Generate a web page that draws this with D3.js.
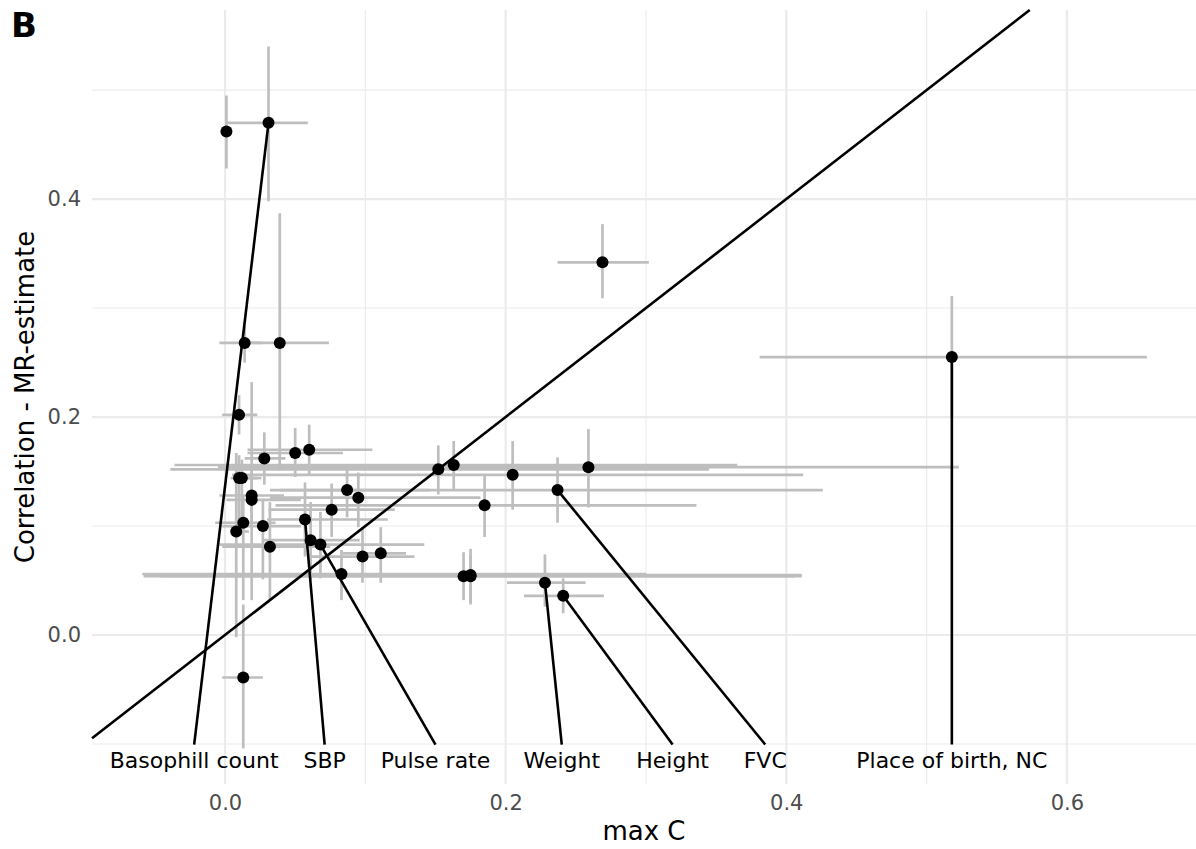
<!DOCTYPE html>
<html>
<head>
<meta charset="utf-8">
<script src="https://cdn.jsdelivr.net/npm/d3@7"></script>
<style>
  body { margin: 0; background: #fff; }
  text { font-family: "DejaVu Sans", sans-serif; }
</style>
</head>
<body>
<svg id="chart" width="1196" height="849"></svg>
<script>
// one entry per trait: max C (x), correlation - MR estimate (y), and their intervals
const maxC   = [0.001, 0.031, 0.014, 0.039, 0.010, 0.028, 0.050, 0.060, 0.010, 0.012,
                0.019, 0.019, 0.087, 0.095, 0.076, 0.057, 0.013, 0.008, 0.027, 0.032,
                0.061, 0.068, 0.083, 0.098, 0.111, 0.152, 0.163, 0.205, 0.185, 0.259,
                0.237, 0.170, 0.175, 0.175, 0.228, 0.241, 0.269, 0.518, 0.013];
const corrMR = [0.462, 0.470, 0.268, 0.268, 0.202, 0.162, 0.167, 0.170, 0.144, 0.144,
                0.128, 0.124, 0.133, 0.126, 0.115, 0.106, 0.103, 0.095, 0.100, 0.081,
                0.087, 0.083, 0.056, 0.072, 0.075, 0.152, 0.156, 0.147, 0.119, 0.154,
                0.133, 0.054, 0.055, 0.054, 0.048, 0.036, 0.342, 0.255, -0.039];
const maxCLo = [0.000, 0.001, -0.004, 0.016, -0.002, 0.014, 0.016, 0.016, 0.006, 0.004,
                -0.004, 0.001, 0.032, 0.032, 0.031, 0.030, -0.007, 0.005, -0.002, -0.002,
                0.027, -0.004, -0.059, 0.060, 0.084, -0.039, -0.036, 0.005, 0.036, -0.005,
                0.039, -0.058, -0.053, -0.046, 0.201, 0.213, 0.237, 0.381, -0.002];
const maxCHi = [0.002, 0.059, 0.026, 0.074, 0.023, 0.043, 0.084, 0.105, 0.023, 0.026,
                0.042, 0.054, 0.146, 0.182, 0.121, 0.116, 0.036, 0.017, 0.054, 0.075,
                0.096, 0.142, 0.300, 0.135, 0.129, 0.345, 0.365, 0.412, 0.336, 0.523,
                0.426, 0.411, 0.411, 0.406, 0.257, 0.270, 0.302, 0.657, 0.027];
const corrLo = [0.428, 0.398, 0.250, 0.151, 0.184, 0.138, 0.145, 0.147, 0.106, 0.092,
                0.100, 0.032, 0.108, 0.099, 0.090, 0.072, 0.032, -0.002, 0.051, 0.032,
                0.051, 0.052, 0.032, 0.048, 0.048, 0.129, 0.134, 0.115, 0.090, 0.117,
                0.103, 0.032, 0.030, 0.028, 0.026, 0.020, 0.309, 0.199, -0.104];
const corrHi = [0.495, 0.540, 0.284, 0.387, 0.220, 0.186, 0.190, 0.193, 0.165, 0.161,
                0.150, 0.232, 0.156, 0.149, 0.139, 0.140, 0.128, 0.167, 0.124, 0.122,
                0.122, 0.113, 0.078, 0.099, 0.099, 0.174, 0.178, 0.178, 0.147, 0.189,
                0.163, 0.076, 0.079, 0.073, 0.074, 0.052, 0.377, 0.311, 0.028];

// labelled traits: which point, and where the label sits
const labelText  = ["Basophill count", "SBP", "Pulse rate", "Weight", "Height", "FVC", "Place of birth, NC"];
const labelPoint = [1, 15, 21, 34, 35, 30, 37];
const labelX     = [-0.022, 0.071, 0.150, 0.240, 0.319, 0.385, 0.518];
const labelY     = -0.115;

const xTicks = [0.0, 0.2, 0.4, 0.6];
const xMinor = [0.1, 0.3, 0.5];
const yTicks = [0.0, 0.2, 0.4];
const yMinor = [-0.1, 0.1, 0.3, 0.5];

const svg = d3.select("#chart");
const panel = {left: 92, right: 1196, top: 10, bottom: 784};

const x = d3.scaleLinear().domain([-0.0948, 0.692]).range([panel.left, panel.right]);
const y = d3.scaleLinear().domain([-0.1367, 0.5735]).range([panel.bottom, panel.top]);

const grid = svg.append("g");
grid.selectAll("line.xminor").data(xMinor).join("line")
    .attr("x1", d => x(d)).attr("x2", d => x(d))
    .attr("y1", panel.top).attr("y2", panel.bottom)
    .attr("stroke", "#EBEBEB").attr("stroke-width", 1.1);
grid.selectAll("line.yminor").data(yMinor).join("line")
    .attr("y1", d => y(d)).attr("y2", d => y(d))
    .attr("x1", panel.left).attr("x2", panel.right)
    .attr("stroke", "#EBEBEB").attr("stroke-width", 1.1);
grid.selectAll("line.xmajor").data(xTicks).join("line")
    .attr("x1", d => x(d)).attr("x2", d => x(d))
    .attr("y1", panel.top).attr("y2", panel.bottom)
    .attr("stroke", "#EBEBEB").attr("stroke-width", 2.2);
grid.selectAll("line.ymajor").data(yTicks).join("line")
    .attr("y1", d => y(d)).attr("y2", d => y(d))
    .attr("x1", panel.left).attr("x2", panel.right)
    .attr("stroke", "#EBEBEB").attr("stroke-width", 2.2);

// axes (no lines, only labels)
const xAxis = svg.append("g")
    .attr("transform", `translate(0,${panel.bottom})`)
    .call(d3.axisBottom(x).tickValues(xTicks).tickFormat(d3.format(".1f")).tickSize(0).tickPadding(11));
const yAxis = svg.append("g")
    .attr("transform", `translate(${panel.left},0)`)
    .call(d3.axisLeft(y).tickValues(yTicks).tickFormat(d3.format(".1f")).tickSize(0).tickPadding(11));
[xAxis, yAxis].forEach(a => {
    a.select(".domain").remove();
    a.selectAll("text").attr("font-size", 21).attr("fill", "#4D4D4D")
        .attr("font-family", "DejaVu Sans, sans-serif");
});

const idx = d3.range(maxC.length);

// error bars
const bars = svg.append("g").attr("stroke", "#BEBEBE").attr("stroke-width", 2.7);
bars.selectAll("line.h").data(idx).join("line")
    .attr("x1", i => x(maxCLo[i])).attr("x2", i => x(maxCHi[i]))
    .attr("y1", i => y(corrMR[i])).attr("y2", i => y(corrMR[i]));
bars.selectAll("line.v").data(idx).join("line")
    .attr("x1", i => x(maxC[i])).attr("x2", i => x(maxC[i]))
    .attr("y1", i => y(corrLo[i])).attr("y2", i => y(corrHi[i]));

// points
svg.append("g").selectAll("circle").data(idx).join("circle")
    .attr("cx", i => x(maxC[i])).attr("cy", i => y(corrMR[i]))
    .attr("r", 6).attr("fill", "#000");

// identity line
const xd = x.domain();
svg.append("line")
    .attr("x1", x(xd[0])).attr("y1", y(xd[0]))
    .attr("x2", x(0.5735)).attr("y2", y(0.5735))
    .attr("stroke", "#000").attr("stroke-width", 2.6);

// label segments and text
const lab = svg.append("g");
lab.selectAll("line").data(labelText).join("line")
    .attr("x1", (d, k) => x(maxC[labelPoint[k]])).attr("y1", (d, k) => y(corrMR[labelPoint[k]]))
    .attr("x2", (d, k) => x(labelX[k])).attr("y2", y(-0.1005))
    .attr("stroke", "#000").attr("stroke-width", 2.6);
lab.selectAll("text").data(labelText).join("text")
    .attr("x", (d, k) => x(labelX[k])).attr("y", y(labelY))
    .attr("text-anchor", "middle").attr("dominant-baseline", "central")
    .attr("font-size", 22).attr("fill", "#000")
    .text(d => d);

// titles
svg.append("text")
    .attr("x", (panel.left + panel.right) / 2).attr("y", 840)
    .attr("text-anchor", "middle").attr("font-size", 26).attr("fill", "#000")
    .text("max C");
svg.append("text")
    .attr("transform", `translate(34,${(panel.top + panel.bottom) / 2}) rotate(-90)`)
    .attr("text-anchor", "middle").attr("font-size", 26).attr("fill", "#000")
    .text("Correlation - MR-estimate");
svg.append("text")
    .attr("x", 11).attr("y", 37)
    .attr("font-size", 34).attr("font-weight", "bold").attr("fill", "#000")
    .text("B");
</script>
</body>
</html>
